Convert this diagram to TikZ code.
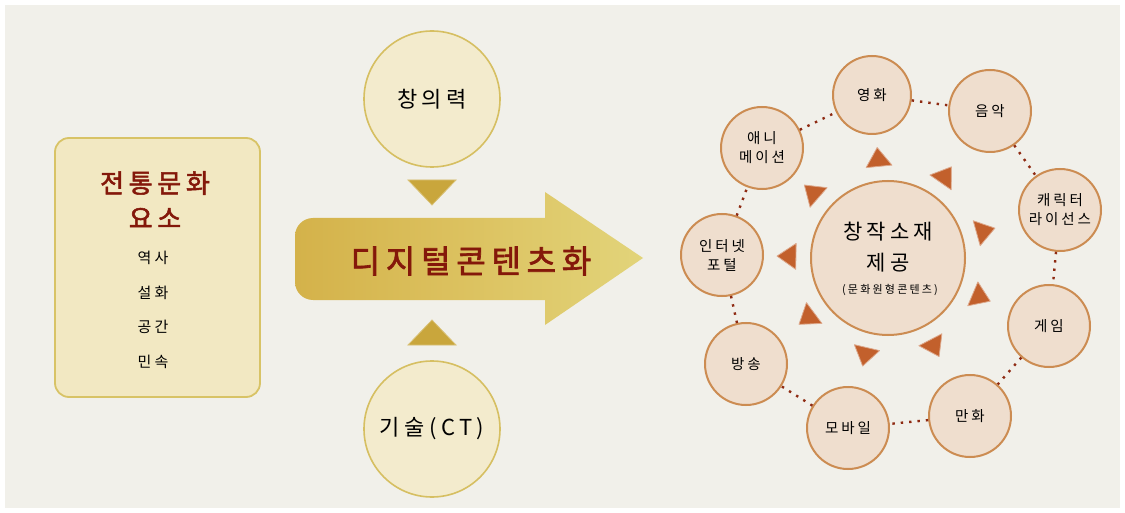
\documentclass[tikz,border=0pt]{standalone}
\usepackage{fontspec}
\setmainfont{Noto Sans CJK KR}
\newfontfamily\krA{Noto Sans CJK KR}[LetterSpace=20]
\newfontfamily\krB{Noto Sans CJK KR}[LetterSpace=18,FakeBold=2]
\usetikzlibrary{shapes.geometric}
\definecolor{bgc}{HTML}{F1F0EA}
\definecolor{boxfill}{HTML}{F2E8C2}
\definecolor{boxline}{HTML}{D8C366}
\definecolor{ycircfill}{HTML}{F3EBCD}
\definecolor{goldline}{HTML}{D6BF62}
\definecolor{pinkfill}{HTML}{EFDECE}
\definecolor{pinkline}{HTML}{CC8C52}
\definecolor{darkred}{HTML}{84180A}
\definecolor{dotred}{HTML}{8E2A12}
\definecolor{gold}{HTML}{C9A63C}
\definecolor{arrowA}{HTML}{D4B24A}
\definecolor{arrowB}{HTML}{DCC260}
\definecolor{arrowC}{HTML}{E2D47A}
\definecolor{trired}{HTML}{C2602C}
\begin{document}
\begin{tikzpicture}[x=1pt,y=-1pt,
  tbox/.style={draw=boxline, line width=1.8pt, fill=boxfill, rounded corners=14pt,
    minimum width=205pt, minimum height=259pt, inner sep=0pt},
  ycirc/.style={circle, draw=goldline, line width=1.6pt, fill=ycircfill,
    minimum size=136pt, inner sep=0pt, font=\krA\fontsize{22}{26}\selectfont},
  pcirc/.style={circle, draw=pinkline, line width=2pt, fill=pinkfill,
    minimum size=82pt, inner sep=0pt, align=center,
    font=\krA\fontsize{14.5}{19}\selectfont},
  ctrcirc/.style={circle, draw=pinkline, line width=2pt, fill=pinkfill,
    minimum size=154pt, inner sep=0pt},
  titletext/.style={text=darkred, font=\krB\fontsize{26}{30}\selectfont, inner sep=0pt},
  itemtext/.style={text=black, font=\krA\fontsize{15}{18}\selectfont, inner sep=0pt},
  arrowtext/.style={text=darkred, font=\krB\fontsize{32}{36}\selectfont, inner sep=0pt},
  dotline/.style={draw=dotred, line width=2.4pt, dash pattern=on 2.4pt off 6pt},
  tri/.style={fill=trired, draw=trired!55!white, line width=0.8pt, line join=round},
  goldtri/.style={fill=gold, draw=gold!70!white, line width=0.8pt}
]
% background
\fill[white] (0,0) rectangle (1125,513);
\fill[bgc] (5,5) rectangle (1120,508);

% left box
\node[tbox] (trad) at (157.5,267.5) {};
\node[titletext] (t1) at (155,183) {전통문화};
\node[titletext] (t2) at (155,218) {요소};
\node[itemtext] (i1) at (153,258) {역사};
\node[itemtext] (i2) at (153,293) {설화};
\node[itemtext] (i3) at (153,327) {공간};
\node[itemtext] (i4) at (153,362) {민속};

% top and bottom circles
\node[ycirc] (cre) at (432,99) {창의력};
\node[ycirc] (tech) at (432,429) {기술(CT)};

% small gold triangles
\fill[goldtri] (408,180) -- (456,180) -- (432,205) -- cycle;
\fill[goldtri] (408,345) -- (456,345) -- (432,320) -- cycle;

% big arrow
\shade[left color=arrowA, right color=arrowC, middle color=arrowB]
  (420,218) [rounded corners=18pt] -- (295,218) -- (295,300) -- (420,300) [sharp corners]
  -- (545,300) -- (545,325) -- (643,258) -- (545,192) -- (545,218) -- cycle;
\node[arrowtext] (dig) at (471,261) {디지털콘텐츠화};

% right group
\node[ctrcirc] (ctr) at (888,258) {};
\node[inner sep=0pt, font=\krA\fontsize{21}{24}\selectfont] (c1) at (888,232) {창작소재};
\node[inner sep=0pt, font=\krA\fontsize{21}{24}\selectfont] (c2) at (888,263) {제공};
\node[inner sep=0pt, font=\krA\fontsize{11}{13}\selectfont] (c3) at (890,290) {(문화원형콘텐츠)};

\node[pcirc, minimum size=78pt] (film) at (872,95) {영화};
\node[pcirc] (music) at (990,111) {음악};
\node[pcirc] (chr) at (1060,210) {캐릭터\\라이선스};
\node[pcirc] (game) at (1049,326) {게임};
\node[pcirc] (comic) at (970,416) {만화};
\node[pcirc] (mobile) at (848,428) {모바일};
\node[pcirc] (bcast) at (746,364) {방송};
\node[pcirc] (net) at (722,255) {인터넷\\포털};
\node[pcirc] (ani) at (762,148) {애니\\메이션};

% dotted ring
\draw[dotline] (net) -- (ani);
\draw[dotline] (ani) -- (film);
\draw[dotline] (film) -- (music);
\draw[dotline] (music) -- (chr);
\draw[dotline] (chr) -- (game);
\draw[dotline] (game) -- (comic);
\draw[dotline] (comic) -- (mobile);
\draw[dotline] (mobile) -- (bcast);
\draw[dotline] (bcast) -- (net);

% outward triangles
\foreach \a in {264.4,304.8,344.4,22.9,62.6,103.2,143.3,181,221.1}{
  \fill[tri] ([shift={(\a:111)}]ctr.center) -- ([shift={(\a+8:93)}]ctr.center)
    -- ([shift={(\a-8:93)}]ctr.center) -- cycle;
}
\end{tikzpicture}
\end{document}
